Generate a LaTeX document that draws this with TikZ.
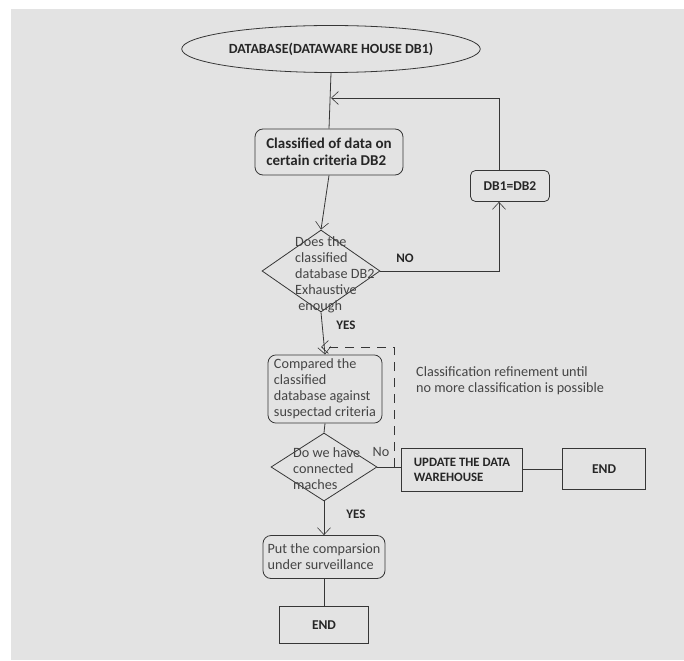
\documentclass[tikz,border=0pt]{standalone}
\usepackage{fontspec}
\setmainfont{Carlito}
\usetikzlibrary{positioning,arrows.meta,calc,shapes.geometric}
\definecolor{bggray}{HTML}{E3E3E3}
\definecolor{ink}{HTML}{363636}
\definecolor{txtgray}{HTML}{454545}

\begin{document}
\begin{tikzpicture}[
    x=1pt, y=-1pt,
    line/.style={draw=ink, line width=0.8pt},
    arr/.style={line, -{Straight Barb[length=7pt, width=13pt, line width=0.6pt]}},
    dashline/.style={line, dash pattern=on 9pt off 7pt},
    rbox/.style={line, rounded corners=8pt, align=left, inner sep=4pt},
    sbox/.style={line, align=left, inner sep=4pt},
    dia/.style={line, diamond, inner sep=0pt},
    bold/.style={font=\fontsize{13.5}{15}\selectfont\bfseries, text=black!85},
    plain/.style={font=\fontsize{14.2}{16}\selectfont, text=txtgray},
    lbl/.style={font=\fontsize{13}{15}\selectfont\bfseries, text=black!85}
  ]
  \useasboundingbox (0,0) rectangle (684,660);
  \fill[bggray] (11,9) rectangle (684,660);

  % --- main column ---
  \node[line, ellipse, minimum width=282pt, minimum height=47pt, bold,
        font=\fontsize{14}{16}\selectfont\bfseries] (db) at (331,49)
    {DATABASE(DATAWARE HOUSE DB1)};
  \node[rbox, bold, font=\fontsize{15}{17}\selectfont\bfseries, minimum width=148pt, minimum height=46pt]
    (cls) at (329,152) {Classified of data on\\certain criteria DB2};
  \node[dia, minimum width=118pt, minimum height=82pt] (q1) at (321,271) {};
  \node[plain, align=left, anchor=west, inner sep=0pt] (q1txt) at ($(q1.center)+(-26,4)$)
    {Does the\\classified\\database DB2\\Exhaustive\\\ enough};
  \node[rbox, plain, minimum width=114pt, minimum height=67pt] (cmp) at (325,389)
    {Compared the\\classified\\database against\\suspectad criteria};
  \node[dia, minimum width=106pt, minimum height=68pt] (q2) at (324,467) {};
  \node[plain, align=left, anchor=west, inner sep=0pt] (q2txt) at ($(q2.center)+(-31,2)$)
    {Do we have\\connected\\maches};
  \node[rbox, plain, minimum width=122pt, minimum height=43pt] (put) at (324,557)
    {Put the comparsion\\under surveillance};
  \node[sbox, bold, minimum width=89pt, minimum height=37pt] (end2) at (324,625) {END};

  % --- right side ---
  \node[rbox, bold, rounded corners=5pt, minimum width=79pt, minimum height=31pt] (dbeq) at (510,186) {DB1=DB2};
  \node[sbox, bold, font=\fontsize{12.8}{15}\selectfont\bfseries,
        minimum width=121pt, minimum height=43pt] (upd) at (462,470)
    {UPDATE THE DATA\\WAREHOUSE};
  \node[sbox, bold, minimum width=83pt, minimum height=41pt] (end1) at (604,469) {END};
  \node[plain, align=left, anchor=west, inner sep=0pt] (note) at (416,381)
    {Classification refinement until\\no more classification is possible};

  \coordinate (fbx) at (499,98);
  \coordinate (rtop) at (394,347);

  % --- connectors ---
  \draw[line] (db.south) -- (cls.north);
  \draw[arr] (dbeq.north -| fbx) -- (fbx) -- (fbx -| db.south);
  \draw[arr] (cls.south) -- (q1.north);
  \draw[arr] (q1.east) -- (q1.east -| fbx) -- (dbeq.south -| fbx);
  \draw[arr] (q1.south) -- (cmp.north);
  \draw[line] (cmp.south) -- (q2.north);
  \draw[line] (q2.east) -- (upd.west |- q2.east);
  \draw[line] (upd.east |- end1.west) -- (end1.west);
  \draw[dashline, -{Straight Barb[length=7pt, width=13pt, line width=0.6pt]}]
    (q2.east -| rtop) -- (rtop) -- (rtop -| q1.south);
  \draw[arr] (q2.south) -- (put.north);
  \draw[line] (put.south) -- (end2.north);

  % --- labels ---
  \node[lbl] (no1) at (405,258) {NO};
  \node[lbl] (yes1) at (346,325) {YES};
  \node[plain] (no2) at (381,452) {No};
  \node[lbl] (yes2) at (356,514) {YES};
\end{tikzpicture}
\end{document}
